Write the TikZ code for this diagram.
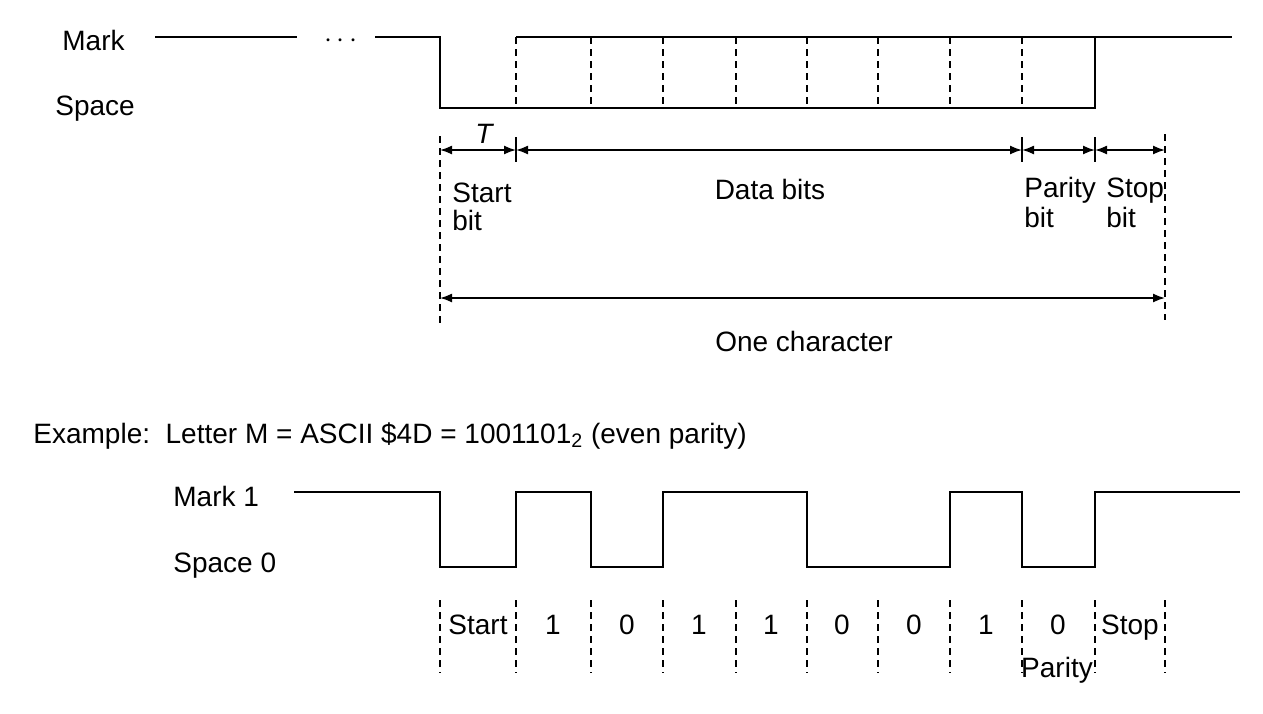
\documentclass[tikz,border=0pt]{standalone}
\usepackage{fontspec}
\setmainfont{Liberation Sans}
\usetikzlibrary{arrows.meta,positioning}

\tikzset{
  wave/.style={line width=1pt},
  bitline/.style={line width=1pt,dash pattern=on 3.5pt off 2.5pt},
  dim/.style={<->,line width=0.8pt},
  lbl/.style={inner sep=0pt,anchor=base west},
  clbl/.style={inner sep=0pt,anchor=base}
}

\begin{document}
\begin{tikzpicture}[>={Latex[length=6pt,width=4.5pt]},x=0.5pt,y=-0.5pt,
  font=\fontsize{14}{16}\selectfont]
\useasboundingbox (0,0) rectangle (1263,713);

% levels and bit boundaries
\coordinate (mk) at (0,37);
\coordinate (sp) at (0,108);
\coordinate (dim) at (0,150);
\coordinate (chr) at (0,298);
\coordinate (hi) at (0,492);
\coordinate (lo) at (0,567);
\foreach \i/\x in {0/440,1/516,2/591,3/663,4/736,5/807,6/878,7/950,8/1022,9/1095,10/1165}
  \coordinate (t\i) at (\x,0);

% general frame
\node[lbl] (mark) at (62,50) {Mark};
\node[lbl] (space) at (55,115) {Space};
\draw[wave] (155,37) -- (297,37);
\node[inner sep=0pt] (dots) at (341,41) {$\cdots$};
\draw[wave] (375,37) -- (t0 |- mk) -- (t0 |- sp) -- (t9 |- sp) -- (t9 |- mk);
\draw[wave] (t1 |- mk) -- (1232,37);
\foreach \i in {1,...,8}
  \draw[bitline] (t\i |- mk) -- (t\i |- sp);

% bit widths
\draw[dim] (t0 |- dim) -- (t1 |- dim);
\node[clbl] (T) at (484,143) {\itshape T};
\draw[dim] (t1 |- dim) -- (t8 |- dim);
\draw[dim] (t8 |- dim) -- (t9 |- dim);
\draw[dim] (t9 |- dim) -- (t10 |- dim);
\foreach \i in {1,8,9}
  \draw[line width=0.8pt] (t\i |- 0,137) -- (t\i |- 0,162);
\draw[bitline] (t0 |- 0,136) -- (t0 |- 0,323);
\draw[bitline] (t10 |- 0,134) -- (t10 |- 0,320);

\node[lbl] (start) at (452,202) {Start};
\node[lbl] (startbit) at (452,230) {bit};
\node[clbl] (databits) at (770,199) {Data bits};
\node[lbl] (parity) at (1024,197) {Parity};
\node[lbl] (paritybit) at (1024,227) {bit};
\node[lbl] (stop) at (1106,197) {Stop};
\node[lbl] (stopbit) at (1106,227) {bit};

\draw[dim] (t0 |- chr) -- (t10 |- chr);
\node[clbl] (onechar) at (804,351) {One character};

% example
\node[lbl] (example) at (33,443)
  {Example:\ \ Letter M = ASCII \$4D = 1001101\textsubscript{2} (even parity)};

\node[lbl] (mark1) at (173,506) {Mark 1};
\node[lbl] (space0) at (173,572) {Space 0};
\draw[wave] (294,492) -- (t0 |- hi) -- (t0 |- lo) -- (t1 |- lo) -- (t1 |- hi)
  -- (t2 |- hi) -- (t2 |- lo) -- (t3 |- lo) -- (t3 |- hi) -- (t5 |- hi)
  -- (t5 |- lo) -- (t7 |- lo) -- (t7 |- hi) -- (t8 |- hi) -- (t8 |- lo)
  -- (t9 |- lo) -- (t9 |- hi) -- (1240,492);
\foreach \i in {0,...,10}
  \draw[bitline] (t\i |- 0,600) -- (t\i |- 0,673);
\foreach \x/\b [count=\i] in {478/Start,553/1,627/0,699/1,771/1,842/0,914/0,986/1,1058/0,1130/Stop}
  \node[clbl] (bit\i) at (\x,634) {\b};
\node[clbl] (paritylbl) at (1057,677) {Parity};

\end{tikzpicture}
\end{document}
